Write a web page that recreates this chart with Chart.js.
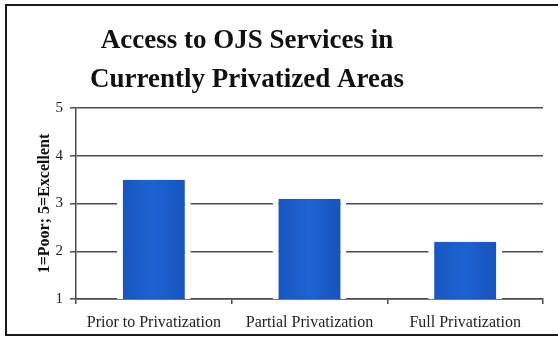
<!DOCTYPE html>
<html>
<head>
<meta charset="utf-8">
<script src="https://cdn.jsdelivr.net/npm/chart.js@4"></script>
<style>
  html, body { margin: 0; padding: 0; background: #fff; }
  #wrap { position: relative; width: 558px; height: 339px; overflow: hidden; }
  #frame {
    position: absolute; left: 5px; top: 4px; width: 570px; height: 328px;
    border: 2.5px solid #1a1a1a; pointer-events: none;
  }
</style>
</head>
<body>
<div id="wrap">
  <canvas id="chart" width="558" height="339"></canvas>
  <div id="frame"></div>
</div>
<script>
const titleLines = ["Access to OJS Services in", "Currently Privatized Areas"];
const categories = ["Prior to Privatization", "Partial Privatization", "Full Privatization"];
const ratings = [3.5, 3.1, 2.2];
const yTicks = [1, 2, 3, 4, 5];
const yLabel = "1=Poor; 5=Excellent";

const serif = "'Liberation Serif', 'DejaVu Serif', serif";
const lineColor = "#4a4a4a";
const barWidth = 62;

// title is centred a bit left of the canvas middle, so draw it by hand
const titlePlugin = {
  id: "twoLineTitle",
  afterDraw(chart) {
    const ctx = chart.ctx;
    ctx.save();
    ctx.font = "bold 27px " + serif;
    ctx.fillStyle = "#111";
    ctx.textAlign = "center";
    ctx.textBaseline = "alphabetic";
    ctx.fillText(titleLines[0], 247, 48);
    ctx.fillText(titleLines[1], 247, 87);
    ctx.restore();
  }
};

function barFill(c) {
  const x = c.chart.scales.x;
  const mid = x ? x.getPixelForValue(c.dataIndex) : NaN;
  if (!isFinite(mid)) return "#1b5fcf";
  const g = c.chart.ctx.createLinearGradient(mid - barWidth / 2, 0, mid + barWidth / 2, 0);
  g.addColorStop(0, "#1856c0");
  g.addColorStop(0.5, "#1d62d2");
  g.addColorStop(1, "#1753bc");
  return g;
}

new Chart(document.getElementById("chart"), {
  type: "bar",
  data: {
    labels: categories,
    datasets: [{
      data: ratings,
      backgroundColor: barFill,
      borderColor: "#fff",
      borderWidth: { left: 6, right: 6, top: 0, bottom: 0 },
      borderSkipped: false,
      barPercentage: (barWidth + 12) / 156,
      categoryPercentage: 1
    }]
  },
  options: {
    responsive: false,
    animation: false,
    layout: { padding: { top: 108, right: 15, left: 0, bottom: 0 } },
    plugins: {
      legend: { display: false },
      title: { display: false },
      tooltip: { enabled: false }
    },
    scales: {
      x: {
        afterFit(s) { s.height = 40; },
        grid: { drawOnChartArea: false, drawTicks: true, tickLength: 5, color: lineColor, lineWidth: 1.5 },
        border: { color: lineColor, width: 1.5 },
        ticks: { color: "#222", padding: 9, font: { family: serif, size: 16 }, maxRotation: 0 }
      },
      y: {
        min: 1,
        max: 5,
        afterFit(s) { s.width = 76; },
        afterBuildTicks(s) { s.ticks = yTicks.map(v => ({ value: v })); },
        grid: { color: lineColor, lineWidth: 1.5, tickLength: 6 },
        border: { color: lineColor, width: 1.5 },
        ticks: { color: "#222", padding: 7, font: { family: serif, size: 15 } },
        title: {
          display: true,
          text: yLabel,
          color: "#111",
          font: { family: serif, size: 16, weight: "bold" },
          padding: { top: 35, bottom: 0 }
        }
      }
    }
  },
  plugins: [titlePlugin]
});
</script>
</body>
</html>
